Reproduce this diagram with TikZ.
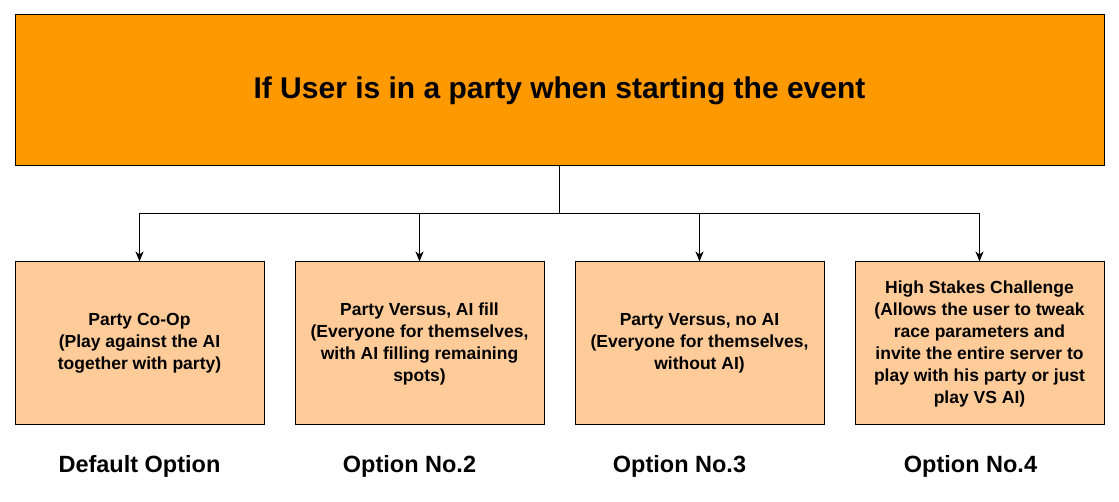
\documentclass[tikz,border=0pt]{standalone}
\usepackage{fontspec}
\setmainfont{Liberation Sans}
\usepackage{xcolor}
\usetikzlibrary{positioning,arrows.meta,calc}
\definecolor{eventorange}{HTML}{FF9900}
\definecolor{optionpeach}{HTML}{FFCC99}
\tikzset{
  box/.style={draw, line width=1pt, align=center, inner sep=0pt,
              font=\bfseries\fontsize{17.5}{22}\selectfont},
  headbox/.style={box, fill=eventorange, minimum width=1089pt, minimum height=151pt,
                  font=\bfseries\fontsize{30}{34}\selectfont},
  optbox/.style={box, fill=optionpeach, minimum width=249pt, minimum height=163pt},
  optlabel/.style={font=\bfseries\fontsize{23.5}{28}\selectfont},
  arrow/.style={-{Stealth[length=10pt, width=8pt, inset=3pt]}, line width=1pt},
}
\begin{document}
\begin{tikzpicture}[x=1pt, y=1pt, node distance=30pt]
  \useasboundingbox (0,0) rectangle (1119,502);

  % Event
  \node[headbox] (event) at (559.5,411.5) {If User is in a party when starting the event};

  % Options
  \node[optbox] (O1) at (139.5,158.5) {Party Co-Op\\(Play against the AI\\together with party)};
  \node[optbox, right=of O1] (O2) {Party Versus, AI fill\\(Everyone for themselves,\\with AI filling remaining\\spots)};
  \node[optbox, right=of O2] (O3) {Party Versus, no AI\\(Everyone for themselves,\\without AI)};
  \node[optbox, right=of O3] (O4) {High Stakes Challenge\\(Allows the user to tweak\\race parameters and\\invite the entire server to\\play with his party or just\\play VS AI)};

  \node[optlabel, below=26pt of O1] (L1) {Default Option};
  \node[optlabel, below=26pt of O2, xshift=-10pt] (L2) {Option No.2};
  \node[optlabel, below=26pt of O3, xshift=-20pt] (L3) {Option No.3};
  \node[optlabel, below=26pt of O4, xshift=-9pt] (L4) {Option No.4};

  % Connectors
  \coordinate (split) at ($(event.south)+(0,-47)$);
  \draw[line width=1pt] (event.south) -- (split);
  \foreach \o in {O1,O2,O3,O4}
    \draw[arrow] (split) -| (\o.north);
\end{tikzpicture}
\end{document}
